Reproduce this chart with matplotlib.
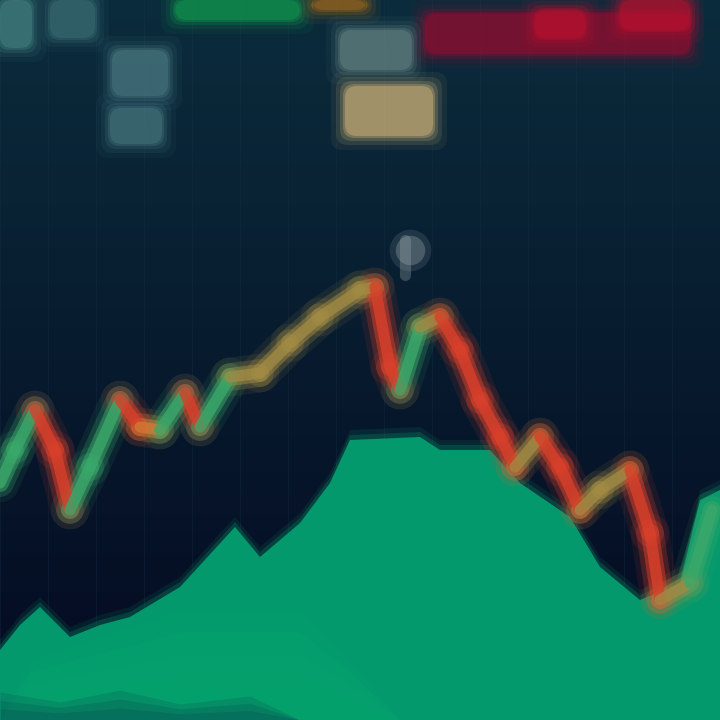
import numpy as np
import matplotlib.pyplot as plt
from matplotlib.collections import LineCollection
from matplotlib.patches import FancyBboxPatch

# price path (x = time, y = price level)
time = [0, 15, 35, 55, 70, 90, 120, 140, 160, 185, 200, 230, 260, 290, 320, 360, 375,
        390, 400, 420, 440, 460, 480, 500, 515, 540, 560, 580, 600, 630, 650, 660, 690, 712]
price = [237, 270, 310, 270, 210, 253, 320, 293, 290, 327, 293, 343, 347, 377, 403, 430, 433,
         353, 330, 393, 403, 370, 320, 283, 253, 283, 253, 210, 230, 250, 187, 120, 137, 210]

# volume profile behind the price
vol_time = [0, 20, 40, 70, 100, 130, 180, 235, 260, 300, 330, 350, 420, 440, 490, 520,
            570, 600, 640, 680, 700, 720]
volume = [70, 95, 113, 83, 95, 103, 133, 193, 163, 197, 237, 280, 283, 270, 270, 237,
          203, 153, 120, 137, 220, 230]

# blurred header labels: (left, top, width, height, colour)
labels = [
    (0, 0, 32, 48, '#4a8a88'), (50, 0, 45, 38, '#3f7478'),
    (112, 50, 56, 46, '#4f8088'), (110, 108, 52, 36, '#4a7c84'),
    (175, 0, 125, 20, '#12a050'), (312, 0, 55, 10, '#a86a1a'),
    (340, 30, 72, 40, '#6a8a88'), (345, 86, 88, 50, '#dcbc7c'),
    (425, 14, 265, 40, '#9c0c30'), (535, 10, 50, 28, '#c0102e'),
    (620, 0, 70, 30, '#c0102e'),
]

fig = plt.figure(figsize=(7.2, 7.2), dpi=100)
ax = fig.add_axes([0, 0, 1, 1])
ax.set_xlim(0, 720)
ax.set_ylim(0, 720)
ax.axis('off')

# background gradient, navy at the top to dark teal lower down
grad = np.linspace(0, 1, 256).reshape(-1, 1)
top = np.array([4, 9, 32]) / 255
bottom = np.array([11, 44, 60]) / 255
bg = top + (bottom - top) * grad
ax.imshow(bg.reshape(256, 1, 3), extent=[0, 720, 720, 0], aspect='auto', zorder=0)

for gx in np.arange(0, 720, 48):
    ax.axvline(gx, color='#1c3a50', lw=0.8, alpha=0.25, zorder=1)

# volume area with a soft edge
for off, a in [(10, 0.12), (5, 0.25)]:
    ax.fill_between(vol_time, 0, np.array(volume) + off, color='#06a070', alpha=a, lw=0, zorder=2)
ax.fill_between(vol_time, 0, volume, color='#04996c', lw=0, zorder=2)

# brighter glow on the left half of the area, dark band along the bottom
hx = np.array([0, 30, 180, 300, 350, 400])
hy = np.array([0, 60, 110, 110, 60, 0])
for k in [1.0, 0.8, 0.6, 0.4]:
    ax.fill_between(hx, 0, hy * k, color='#10b878', alpha=0.08, lw=0, zorder=2)
bx = [0, 60, 120, 180, 250, 300]
by = np.array([28, 18, 30, 16, 24, 0])
for k in [1.0, 0.7, 0.4]:
    ax.fill_between(bx, 0, by * k, color='#0a3a4a', alpha=0.18, lw=0, zorder=2)

# header labels as soft boxes
for left, top_px, w, h, col in labels:
    for grow, a in [(14, 0.07), (9, 0.12), (5, 0.2), (2, 0.3), (0, 0.4)]:
        box = FancyBboxPatch((left - grow, 720 - top_px - h - grow), w + 2 * grow, h + 2 * grow,
                             boxstyle='round,pad=0,rounding_size=12', fc=col, ec='none',
                             alpha=a, zorder=3)
        ax.add_patch(box)

# price line coloured by direction
pts = np.column_stack([time, price])
segs = np.stack([pts[:-1], pts[1:]], axis=1)
cols = []
for a, b in zip(price[:-1], price[1:]):
    d = b - a
    if d < -15:
        cols.append('#d8402a')
    elif d < 0:
        cols.append('#d07a34')
    elif d > 30:
        cols.append('#3aa86a')
    else:
        cols.append('#a08a44')

for lw, a in [(28, 0.1), (20, 0.25), (13, 0.5), (8, 0.8)]:
    lc = LineCollection(segs, colors=cols, linewidths=lw, alpha=a, capstyle='round',
                        joinstyle='round', zorder=4)
    ax.add_collection(lc)

# wick at the peak
ax.plot([405, 405], [445, 480], color='#8a9aa0', lw=8, alpha=0.35, solid_capstyle='round', zorder=4)
for s, a in [(900, 0.15), (450, 0.3)]:
    ax.scatter([410], [470], s=s, color='#a8b4b8', alpha=a, lw=0, zorder=4)

fig.savefig('out.png', dpi=100, facecolor='#06122a')
